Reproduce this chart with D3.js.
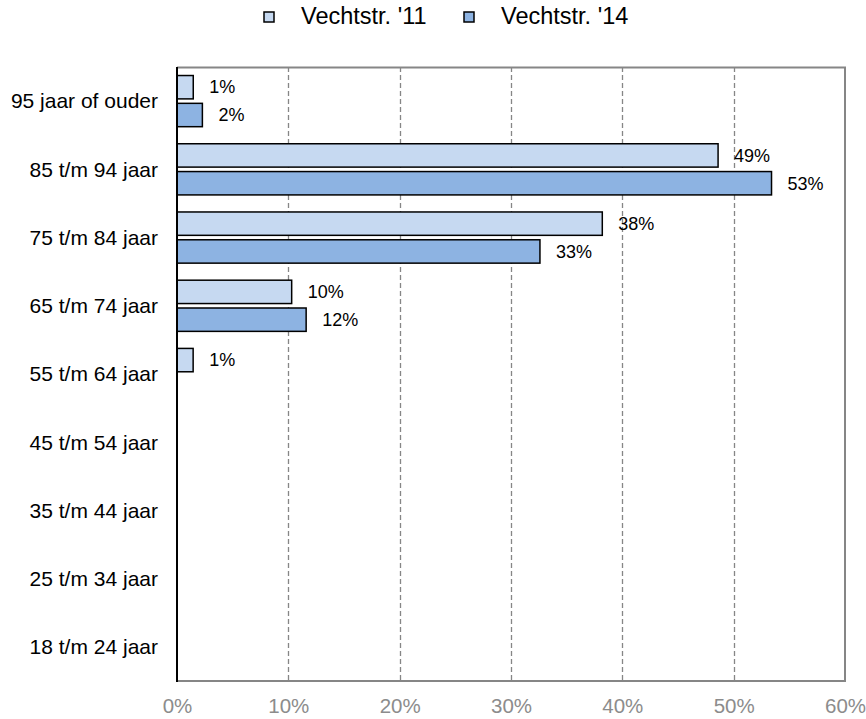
<!DOCTYPE html>
<html>
<head>
<meta charset="utf-8">
<script src="https://cdn.jsdelivr.net/npm/d3@7/dist/d3.min.js"></script>
<style>
  html, body { margin: 0; padding: 0; background: #fff; }
  svg { display: block; font-family: "Liberation Sans", Arial, sans-serif; }
</style>
</head>
<body>
<svg id="chart" width="866" height="719"></svg>
<script>
// Age groups, top to bottom
const categories = [
  "95 jaar of ouder", "85 t/m 94 jaar", "75 t/m 84 jaar", "65 t/m 74 jaar",
  "55 t/m 64 jaar", "45 t/m 54 jaar", "35 t/m 44 jaar", "25 t/m 34 jaar", "18 t/m 24 jaar"
];
const seriesNames = ["Vechtstr. '11", "Vechtstr. '14"];
// Share of residents per age group (fraction)
const values2011 = [0.0146, 0.486, 0.382, 0.103, 0.0145, 0, 0, 0, 0];
const values2014 = [0.0228, 0.534, 0.326, 0.116, 0, 0, 0, 0, 0];
const xTicks = [0, 0.1, 0.2, 0.3, 0.4, 0.5, 0.6];

const colors = ["#C6D9F1", "#8DB3E2"];
const series = [values2011, values2014];

const svg = d3.select("#chart");
const margin = { left: 177, right: 21, top: 67, bottom: 38 };
const W = 866, H = 719;
const innerW = W - margin.left - margin.right;
const innerH = H - margin.top - margin.bottom;

const x = d3.scaleLinear().domain([0, 0.6]).range([0, innerW]);
const y = d3.scaleBand().domain(categories).range([0, innerH]).paddingInner(0.25).paddingOuter(0.125);
const ySub = d3.scaleBand().domain([0, 1]).range([0, y.bandwidth()]).paddingInner(0.16);

const g = svg.append("g").attr("transform", `translate(${margin.left},${margin.top})`);

// Dashed vertical gridlines
g.append("g")
  .selectAll("line")
  .data(xTicks.slice(1, -1))
  .join("line")
  .attr("x1", d => Math.round(x(d)) + 0.5)
  .attr("x2", d => Math.round(x(d)) + 0.5)
  .attr("y1", 0).attr("y2", innerH)
  .attr("stroke", "#868686")
  .attr("stroke-width", 1.3)
  .attr("stroke-dasharray", "5,3");

// Plot frame: top, right and bottom in grey
g.append("path")
  .attr("d", `M0,0.5H${innerW}V${innerH}H0`)
  .attr("fill", "none")
  .attr("stroke", "#868686")
  .attr("stroke-width", 2);

// Bars
const groups = g.append("g").selectAll("g")
  .data(categories)
  .join("g")
  .attr("transform", d => `translate(0,${y(d)})`);

series.forEach((vals, si) => {
  groups.filter((d, i) => vals[i] > 0)
    .append("rect")
    .attr("x", 0)
    .attr("y", ySub(si))
    .attr("width", d => x(vals[categories.indexOf(d)]))
    .attr("height", ySub.bandwidth())
    .attr("fill", colors[si])
    .attr("stroke", "#000")
    .attr("stroke-width", 1.5);

  groups.filter((d, i) => vals[i] > 0)
    .append("text")
    .attr("x", d => x(vals[categories.indexOf(d)]) + 16)
    .attr("y", ySub(si) + ySub.bandwidth() / 2)
    .attr("dy", "0.35em")
    .attr("font-size", 18)
    .attr("fill", "#000")
    .text(d => d3.format(".0%")(vals[categories.indexOf(d)]));
});

// Left axis line
g.append("line")
  .attr("x1", 0).attr("x2", 0)
  .attr("y1", 0).attr("y2", innerH + 1)
  .attr("stroke", "#000").attr("stroke-width", 2);

// Category labels
g.append("g").selectAll("text")
  .data(categories)
  .join("text")
  .attr("x", -19)
  .attr("y", d => y(d) + y.bandwidth() / 2)
  .attr("dy", "0.35em")
  .attr("text-anchor", "end")
  .attr("font-size", 21)
  .attr("fill", "#000")
  .text(d => d);

// Bottom tick labels
const xAxis = d3.axisBottom(x).tickValues(xTicks).tickFormat(d3.format(".0%")).tickSize(0).tickPadding(17);
const ax = g.append("g").attr("transform", `translate(0,${innerH})`).call(xAxis);
ax.select(".domain").remove();
ax.selectAll("text").attr("font-size", 20.5).attr("fill", "#8c8c8c").attr("font-family", "Liberation Sans, Arial, sans-serif");

// Legend
const legendItems = [
  { name: seriesNames[0], color: colors[0], x: 264 },
  { name: seriesNames[1], color: colors[1], x: 464 }
];
const lg = svg.append("g").selectAll("g").data(legendItems).join("g")
  .attr("transform", d => `translate(${d.x},17)`);
lg.append("rect")
  .attr("x", 0).attr("y", -5).attr("width", 10).attr("height", 10)
  .attr("fill", d => d.color).attr("stroke", "#000").attr("stroke-width", 1.5);
lg.append("text")
  .attr("x", 37).attr("y", -1).attr("dy", "0.35em")
  .attr("font-size", 23.5).attr("fill", "#000")
  .text(d => d.name);
</script>
</body>
</html>
